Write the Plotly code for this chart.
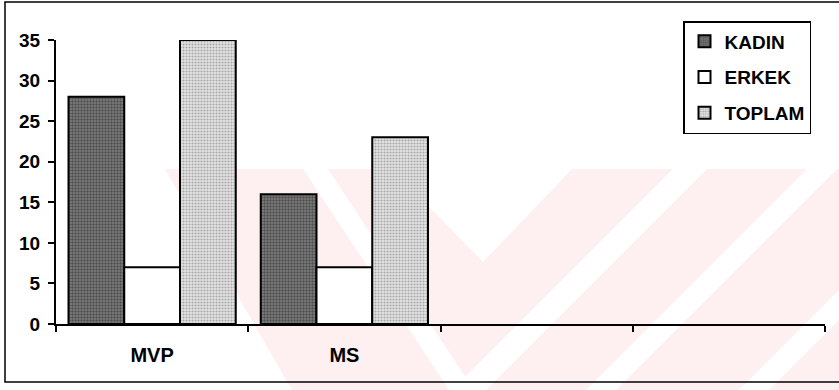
import plotly.graph_objects as go

# ---- data ----
categories = ["MVP", "MS", " ", "  "]          # two empty slots on the axis
groups = ["MVP", "MS"]
kadin = [28, 16]
erkek = [7, 7]
toplam = [35, 23]
y_ticks = [0, 5, 10, 15, 20, 25, 30, 35]

W, H = 839, 390
L, R, T, B = 56, 14, 40, 66
PW, PH = W - L - R, H - T - B


def px(x):
    return (x - L) / PW


def py(y):
    return (H - B - y) / PH


def poly(pts):
    return "M " + " L ".join(f"{px(x):.4f},{py(y):.4f}" for x, y in pts) + " Z"


FONT = "Arial, Liberation Sans, sans-serif"

fig = go.Figure()
fig.add_trace(go.Bar(
    name="KADIN", x=groups, y=kadin, legendgroup="g0",
    marker=dict(color="#6a6a6a", line=dict(color="black", width=2),
                pattern=dict(shape=".", fgcolor="#1e1e1e", bgcolor="#808080",
                             size=3, solidity=0.5)),
))
fig.add_trace(go.Bar(
    name="ERKEK", x=groups, y=erkek, legendgroup="g1",
    marker=dict(color="white", line=dict(color="black", width=2)),
))
fig.add_trace(go.Bar(
    name="TOPLAM", x=groups, y=toplam, legendgroup="g2",
    marker=dict(color="#cfcfcf", line=dict(color="black", width=2),
                pattern=dict(shape=".", fgcolor="#6a6a6a", bgcolor="#e4e4e4",
                             size=3, solidity=0.4)),
))

pink = "rgb(254,239,241)"
wm = dict(xref="paper", yref="paper", line=dict(width=0), layer="below", type="path")
shapes = [
    # faint scanned watermark
    dict(wm, path=poly([(165, 169), (839, 169), (839, 390), (292, 390)]), fillcolor=pink),
    dict(wm, path=poly([(303, 169), (328, 169), (474, 390), (449, 390)]), fillcolor="white"),
    dict(wm, path=poly([(392, 169), (572, 169), (483, 262)]), fillcolor="white"),
    dict(wm, path=poly([(673, 169), (707, 169), (486, 390), (452, 390)]), fillcolor="white"),
    dict(wm, path=poly([(807, 169), (837, 169), (616, 390), (586, 390)]), fillcolor="white"),
    dict(wm, path=poly([(960, 169), (990, 169), (769, 390), (739, 390)]), fillcolor="white"),
    # outer chart frame (right edge lies outside the picture)
    dict(type="rect", xref="paper", yref="paper",
         x0=px(5), x1=px(920), y0=py(382), y1=py(2),
         line=dict(color="black", width=1.5), fillcolor="rgba(0,0,0,0)", layer="above"),
]

fig.update_layout(
    width=W, height=H,
    margin=dict(l=L, r=R, t=T, b=B, pad=0),
    paper_bgcolor="white", plot_bgcolor="rgba(0,0,0,0)",
    barmode="group", bargap=0.13, bargroupgap=0,
    font=dict(family=FONT, size=18, color="black", weight="bold"),
    showlegend=True,
    legend=dict(
        x=px(683), y=py(21), xanchor="left", yanchor="top",
        bordercolor="black", borderwidth=1.5, bgcolor="white",
        font=dict(family=FONT, size=19, color="black", weight="bold"),
        tracegroupgap=8, traceorder="grouped", itemwidth=30,
    ),
    shapes=shapes,
    xaxis=dict(
        type="category", categoryorder="array", categoryarray=categories,
        range=[-0.5, 3.5], tickson="boundaries",
        showline=True, linecolor="black", linewidth=2,
        ticks="outside", ticklen=6, tickwidth=2, tickcolor="black",
        showgrid=False, zeroline=False, ticklabelstandoff=12,
        tickfont=dict(family=FONT, size=20, color="black", weight="bold"),
        fixedrange=True, automargin=False,
    ),
    yaxis=dict(
        range=[0, 35], tickvals=y_ticks,
        showline=True, linecolor="black", linewidth=2,
        ticks="outside", ticklen=6, tickwidth=2, tickcolor="black",
        showgrid=False, zeroline=False, ticklabelstandoff=4,
        tickfont=dict(family=FONT, size=19, color="black", weight="bold"),
        fixedrange=True, automargin=False,
    ),
)

fig.write_html(
    "out.html",
    config={"displayModeBar": False},
    post_script="document.body.style.margin='0';document.body.style.overflow='hidden';",
)
